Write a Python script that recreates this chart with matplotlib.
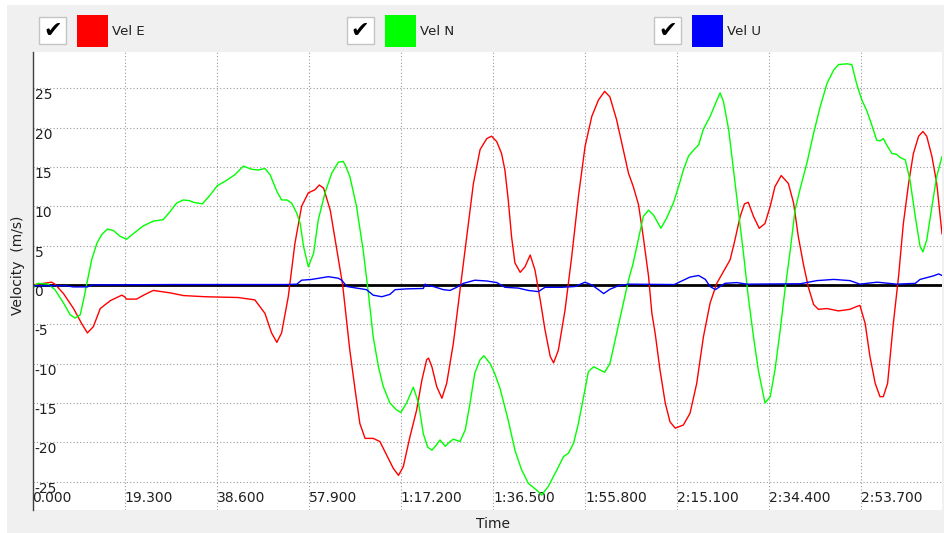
import matplotlib
matplotlib.use("Agg")
import matplotlib.pyplot as plt
from matplotlib.patches import Rectangle

# ---------------- data ----------------
vel_e_t = [0, 2.3, 4.0, 4.7, 6.5, 8.6, 10.3, 11.5, 12.75, 14.2, 16.3, 18.7, 19.3, 19.7, 21.8, 23.6,
           25.3, 28.8, 31.6, 36.2, 43.1, 46.6, 48.7, 50.1, 51.2, 52.2, 53.6, 55.0, 56.4, 57.8, 59.2,
           60.1, 61.0, 62.4, 63.8, 65.0, 65.5, 66.5, 67.6, 68.6, 69.7, 71.4, 72.8, 74.2, 75.6, 76.7,
           77.7, 79.1, 80.5, 81.6, 82.6, 83.0, 83.7, 84.7, 85.8, 86.8, 88.2, 89.6, 91.0, 92.4, 93.8,
           95.2, 96.2, 97.3, 98.3, 99.0, 99.7, 100.4, 101.1, 102.2, 103.2, 104.3, 105.3, 106.4, 107.4,
           108.5, 109.2, 110.2, 111.6, 113.0, 114.4, 115.8, 117.2, 118.6, 119.9, 121.0, 122.4, 123.8,
           124.9, 125.9, 127.0, 128.0, 129.1, 129.8, 130.5, 131.5, 132.6, 133.6, 134.7, 136.4, 137.8,
           139.2, 140.6, 142.0, 143.4, 144.8, 146.2, 147.2, 148.3, 149.2, 150.0, 151.1, 152.3, 153.5,
           154.6, 155.6, 156.9, 158.4, 159.5, 160.5, 161.6, 162.6, 163.7, 164.7, 166.5, 168.9, 171.3,
           172.7, 173.4, 174.5, 175.5, 176.6, 177.6, 178.3, 179.2, 180.4, 181.5, 182.5, 183.6, 184.6,
           185.7, 186.6, 187.4, 188.5, 189.5, 190.6]
vel_e = [0, 0.2, 0.35, 0.1, -1.1, -3.0, -4.9, -6.1, -5.3, -3.0, -2.0, -1.3, -1.5, -1.8, -1.8, -1.2,
         -0.7, -1.0, -1.35, -1.5, -1.6, -1.9, -3.6, -6.1, -7.3, -6.1, -1.5, 5.3, 10.0, 11.7, 12.1,
         12.7, 12.3, 9.5, 4.4, 0.0, -2.8, -8.3, -13.3, -17.6, -19.5, -19.5, -19.9, -21.6, -23.3, -24.2,
         -23.1, -19.3, -15.9, -12.1, -9.5, -9.3, -10.4, -12.9, -14.4, -12.5, -7.4, -0.6, 6.1, 12.9, 17.2,
         18.6, 18.9, 18.2, 16.7, 14.6, 10.8, 6.1, 2.8, 1.6, 2.3, 3.8, 1.9, -1.9, -5.7,
         -9.1, -9.9, -8.3, -3.2, 3.6, 11.2, 17.6, 21.4, 23.5, 24.6, 23.9, 21.0, 17.2,
         14.2, 12.5, 10.2, 6.1, 1.1, -3.6, -6.2, -10.8, -15.0, -17.4, -18.2, -17.8, -16.3,
         -12.5, -6.6, -2.3, 0.2, 1.7, 3.2, 5.7, 8.7, 10.3, 10.5, 8.7, 7.2, 7.8,
         10.0, 12.5, 13.9, 12.9, 10.4, 6.1, 2.5, -0.3, -2.5, -3.1, -3.0, -3.3, -3.1,
         -2.75, -2.6, -4.9, -9.1, -12.5, -14.2, -14.2, -12.5, -4.9, 1.1, 7.8, 12.9, 16.7,
         18.9, 19.5, 18.9, 16.3, 12.9, 6.5]

vel_n_t = [0, 0.6, 1.2, 3.3, 4.7, 6.5, 7.9, 8.9, 10.0, 10.7, 11.4, 12.4, 13.5, 14.5, 15.7, 17.0, 18.3,
           19.7, 21.1, 23.2, 25.3, 27.4, 28.8, 30.2, 31.6, 33.0, 33.7, 35.6, 37.2, 38.7, 40.7, 42.4,
           44.2, 45.9, 47.3, 48.7, 49.8, 51.2, 52.2, 53.3, 54.3, 55.4, 56.1, 56.8, 57.8, 58.9, 59.9,
           61.3, 62.7, 64.1, 65.1, 65.5, 66.5, 67.9, 69.3, 70.4, 71.4, 72.5, 73.5, 74.9, 76.3, 77.2,
           78.4, 79.8, 80.9, 81.9, 82.8, 83.7, 84.7, 85.4, 86.5, 87.5, 88.2, 89.6, 90.7, 91.7, 92.7,
           93.8, 94.6, 95.9, 96.9, 98.0, 99.7, 101.1, 102.5, 103.9, 105.7, 106.7, 108.1, 109.9, 111.3,
           112.3, 113.4, 114.4, 115.5, 116.5, 117.6, 118.6, 119.9, 121.0, 122.1, 123.5, 124.9, 125.9,
           127.0, 128.0, 129.1, 130.1, 130.5, 131.7, 132.9, 134.3, 135.4, 136.4, 137.5, 138.5, 139.6,
           140.6, 142.0, 143.3, 144.1, 144.8, 145.9, 146.9, 147.9, 149.0, 150.0, 151.1, 152.1, 153.5,
           154.6, 155.6, 156.7, 157.7, 158.8, 159.8, 160.9, 162.3, 163.7, 165.1, 166.5, 167.9, 168.9,
           170.7, 171.7, 172.7, 173.8, 174.8, 175.9, 176.9, 177.6, 178.3, 179.0, 180.1, 181.1, 181.8,
           182.9, 183.9, 185.0, 186.0, 186.6, 187.4, 188.5, 189.5, 190.6]
vel_n = [-0.6, 0.0, 0.2, 0.1, -0.6, -2.3, -3.8, -4.2, -3.8, -1.9, 0.2, 3.2, 5.3, 6.4, 7.1, 6.9, 6.2,
         5.8, 6.5, 7.5, 8.1, 8.3, 9.3, 10.4, 10.8, 10.7, 10.5, 10.3, 11.4, 12.6, 13.3, 14.0,
         15.1, 14.7, 14.6, 14.8, 14.0, 11.9, 10.8, 10.8, 10.4, 9.1, 7.8, 4.9, 2.3, 4.0, 8.3,
         11.7, 14.2, 15.6, 15.7, 15.3, 13.8, 10.0, 4.4, -1.1, -6.6, -10.4, -12.9, -15.0, -15.9, -16.2,
         -15.0, -13.0, -15.0, -18.9, -20.6, -21.0, -20.3, -19.7, -20.5, -19.9, -19.6, -19.9, -18.4, -15.0, -11.2,
         -9.5, -9.0, -10.0, -11.3, -13.2, -17.2, -21.0, -23.5, -25.2, -26.1, -26.7, -25.6, -23.5, -21.8,
         -21.4, -20.1, -17.6, -14.2, -11.0, -10.4, -10.7, -11.1, -10.0, -7.0, -3.2, 0.6, 2.8,
         5.9, 8.7, 9.5, 8.9, 8.5, 7.2, 8.5, 10.4, 12.5, 14.6, 16.4, 17.1, 17.8,
         19.8, 21.4, 23.3, 24.4, 23.3, 19.7, 14.6, 9.5, 4.0, -1.5, -6.6, -10.8, -15.0,
         -14.2, -10.8, -5.7, -0.6, 4.4, 9.5, 12.3, 15.5, 19.3, 22.7, 25.6, 27.3, 28.0,
         28.1, 28.0, 25.6, 23.5, 22.2, 20.3, 18.4, 18.3, 18.6, 17.8, 16.7, 16.6, 16.2,
         15.9, 13.3, 8.7, 4.9, 4.2, 5.7, 10.0, 13.8, 16.3]

vel_u_t = [0, 7, 8.5, 11.5, 12.5, 30, 53, 55.4, 56.4, 58.5, 60.5, 62.0, 64.1, 64.8, 65.9, 67.9, 70.0,
           71.4, 73.2, 74.9, 76.0, 78.4, 81.9, 82.3, 82.8, 84.0, 86.1, 87.5, 88.9, 90.3, 92.7, 95.2,
           97.3, 99.0, 101.8, 103.9, 106.0, 107.4, 110.9, 113.7, 115.8, 117.2, 118.6, 119.7, 121.0,
           122.8, 124.9, 134.5, 135.7, 137.8, 139.6, 141.0, 142.0, 143.1, 144.1, 145.1, 147.6, 149.7,
           160.9, 164.4, 167.9, 171.3, 173.4, 177.0, 181.1, 185.0, 186.0, 188.8, 189.9, 190.6]
vel_u = [-0.1, -0.1, -0.25, -0.25, 0.0, 0.05, 0.05, 0.1, 0.6, 0.7, 0.9, 1.05, 0.85, 0.6, -0.2, -0.4, -0.6,
         -1.3, -1.5, -1.2, -0.6, -0.5, -0.45, 0.1, -0.1, -0.2, -0.6, -0.7, -0.3, 0.2, 0.6, 0.5,
         0.3, -0.3, -0.4, -0.7, -0.85, -0.3, -0.3, -0.2, 0.35, 0.0, -0.6, -1.1, -0.55,
         -0.1, 0.1, 0.05, 0.4, 1.0, 1.2, 0.7, -0.2, -0.6, -0.2, 0.2, 0.3, 0.1,
         0.15, 0.55, 0.7, 0.55, 0.1, 0.35, 0.1, 0.2, 0.7, 1.15, 1.4, 1.2]

series_names = ["Vel E", "Vel N", "Vel U"]
series_colors = ["#ff0000", "#00ff00", "#0000ff"]
x_ticks = [0.0, 19.3, 38.6, 57.9, 77.2, 96.5, 115.8, 135.1, 154.4, 173.7]
y_ticks = [25, 20, 15, 10, 5, 0, -5, -10, -15, -20, -25]


def fmt_time(t):
    if t < 60:
        return f"{t:.3f}"
    m = int(t // 60)
    s = t - 60 * m
    return f"{m}:{s:06.3f}"


# ---------------- figure ----------------
W, H = 944, 533
fig = plt.figure(figsize=(W / 100, H / 100), dpi=100)
fig.patch.set_facecolor("white")

bg = fig.add_axes([0, 0, 1, 1], zorder=-1)
bg.set_xlim(0, W)
bg.set_ylim(H, 0)
bg.axis("off")
bg.add_patch(Rectangle((7, 5), W - 7, H - 5, facecolor="#f0f0f0", edgecolor="none"))

# legend (check boxes + swatches)
for i, (name, col) in enumerate(zip(series_names, series_colors)):
    off = i * 307.6
    bg.add_patch(Rectangle((39 + off, 17), 27, 27, facecolor="white", edgecolor="#c4c4c4", lw=1))
    bg.text(52.5 + off, 31, "\u2714", ha="center", va="center", fontsize=16, color="black")
    bg.add_patch(Rectangle((77 + off, 15), 31, 32, facecolor=col, edgecolor="none"))
    bg.text(112 + off, 31.5, name, ha="left", va="center", fontsize=9.5, color="#202020")

# main axes
left, right, top, bottom = 32.5, 942, 52, 510
ax = fig.add_axes([left / W, (H - bottom) / H, (right - left) / W, (bottom - top) / H])
ax.set_facecolor("white")
ax.set_xlim(0, 190.6)
ax.set_ylim(-28.6, 29.6)
ax.set_axisbelow(True)

for s in ["top", "right", "bottom"]:
    ax.spines[s].set_visible(False)
ax.spines["left"].set_color("#404040")
ax.spines["left"].set_linewidth(1.0)

ax.set_xticks(x_ticks)
ax.set_xticklabels([fmt_time(t) for t in x_ticks], ha="left", va="bottom")
ax.set_yticks(y_ticks)
ax.set_yticklabels([str(v) for v in y_ticks], ha="left", va="top")
ax.tick_params(axis="x", length=0, pad=-3.5, labelsize=10, labelcolor="#202020")
ax.tick_params(axis="y", length=0, pad=-1.5, labelsize=10, labelcolor="#202020")
ax.grid(True, color="#9a9a9a", linestyle=(0, (1, 2)), linewidth=0.8)

ax.axhline(0, color="black", lw=2.0, zorder=1.5)
ax.plot(vel_e_t, vel_e, color=series_colors[0], lw=1.0, zorder=2)
ax.plot(vel_n_t, vel_n, color=series_colors[1], lw=1.0, zorder=2.1)
ax.plot(vel_u_t, vel_u, color=series_colors[2], lw=1.0, zorder=2.2)

fig.text(18 / W, 1 - 265 / H, "Velocity  (m/s)", rotation=90, ha="center", va="center",
         fontsize=10, color="#202020")
fig.text(493 / W, 1 - 524 / H, "Time", ha="center", va="center", fontsize=10, color="#202020")

fig.savefig("out.png", dpi=100)
